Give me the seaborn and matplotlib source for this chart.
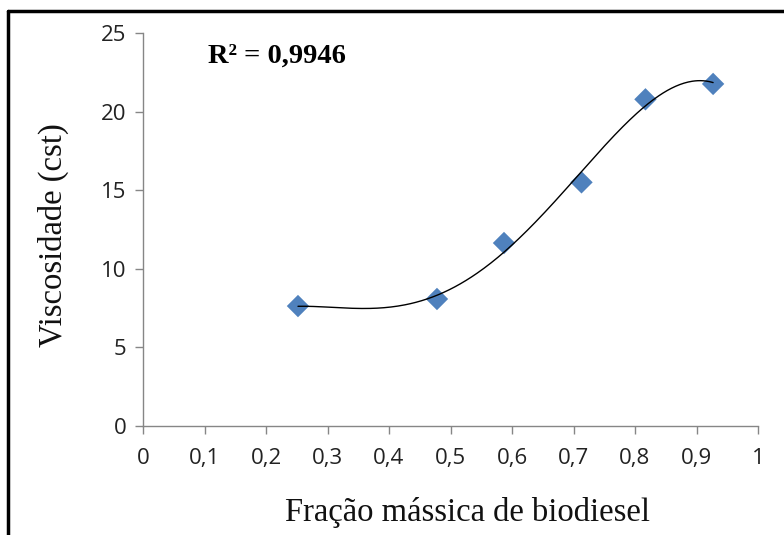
import numpy as np
import pandas as pd
import matplotlib
matplotlib.use("Agg")
import matplotlib.pyplot as plt
from matplotlib.lines import Line2D
import seaborn as sns

# Biodiesel mass fraction vs. kinematic viscosity
fracao = [0.252, 0.478, 0.587, 0.713, 0.817, 0.927]
viscosidade = [7.63, 8.08, 11.64, 15.50, 20.78, 21.76]
r2_label = "R² = 0,9946"

x_ticks = [0, 0.1, 0.2, 0.3, 0.4, 0.5, 0.6, 0.7, 0.8, 0.9, 1]
x_tick_labels = ["0", "0,1", "0,2", "0,3", "0,4", "0,5", "0,6", "0,7", "0,8", "0,9", "1"]
y_ticks = [0, 5, 10, 15, 20, 25]
y_tick_labels = ["0", "5", "10", "15", "20", "25"]

df = pd.DataFrame({"fracao": fracao, "viscosidade": viscosidade})

sns.set_theme(style="white")
plt.rcParams["font.family"] = ["Open Sans", "DejaVu Sans"]

fig = plt.figure(figsize=(7.84, 5.35), dpi=100)
ax = fig.add_axes([143 / 784, 1 - 426 / 535, (758 - 143) / 784, (426 - 33) / 535])

# fourth-order polynomial trendline
coef = np.polyfit(df["fracao"], df["viscosidade"], 4)
xs = np.linspace(min(fracao), max(fracao), 300)
fit = pd.DataFrame({"fracao": xs, "viscosidade": np.polyval(coef, xs)})

sns.scatterplot(data=df, x="fracao", y="viscosidade", ax=ax, marker="D", s=130,
                color="#4F81BD", edgecolor="none", zorder=2)
sns.lineplot(data=fit, x="fracao", y="viscosidade", ax=ax, color="black", lw=1.0, zorder=3)

ax.set_xlim(0, 1)
ax.set_ylim(0, 25)
ax.set_xticks(x_ticks)
ax.set_xticklabels(x_tick_labels)
ax.set_yticks(y_ticks)
ax.set_yticklabels(y_tick_labels)
ax.tick_params(axis="both", which="major", labelsize=16, colors="#868686", labelcolor="#222222",
               length=6, width=1.0, direction="out", bottom=True, left=True)
ax.tick_params(axis="x", pad=10)
ax.tick_params(axis="y", pad=6)

for side in ["top", "right"]:
    ax.spines[side].set_visible(False)
for side in ["left", "bottom"]:
    ax.spines[side].set_color("#868686")
    ax.spines[side].set_linewidth(1.0)

serif = ["Liberation Serif", "DejaVu Serif"]
ax.set_xlabel("Fração mássica de biodiesel", fontsize=23.5, family=serif, color="#111111")
ax.set_ylabel("Viscosidade (cst)", fontsize=23.5, family=serif, color="#111111")
ax.xaxis.set_label_coords(0.527, -0.18)
ax.yaxis.set_label_coords(-0.12, 0.485)

ax.text(0.105, 0.94, r2_label, transform=ax.transAxes,
        fontsize=20.5, fontweight="bold", family=serif, color="black", va="center", ha="left")

# frame around the figure
fig.add_artist(Line2D([8 / 784, 8 / 784], [0, 1 - 11 / 535], transform=fig.transFigure,
                      color="black", lw=2.5))
fig.add_artist(Line2D([8 / 784, 1], [1 - 11 / 535, 1 - 11 / 535], transform=fig.transFigure,
                      color="black", lw=2.5))

fig.savefig("out.png", dpi=100, facecolor="white")
